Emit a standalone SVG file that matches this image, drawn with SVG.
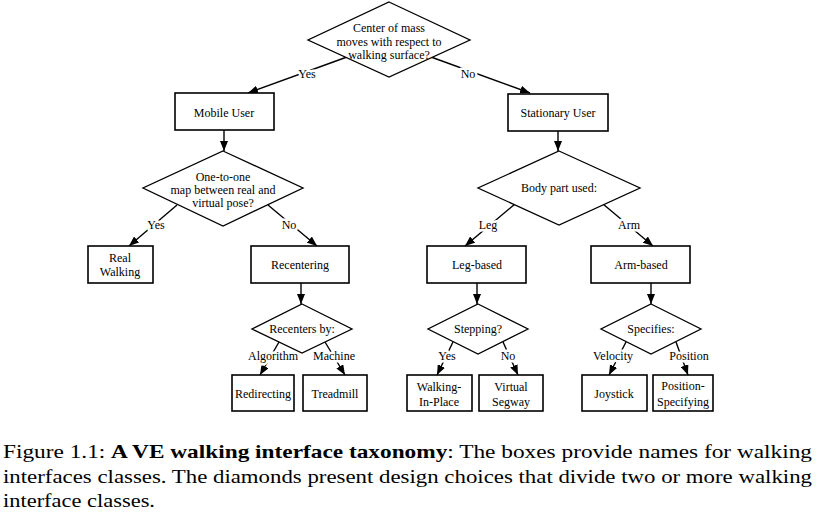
<svg xmlns="http://www.w3.org/2000/svg" width="818" height="516" viewBox="0 0 818 516">
<style>
.box{fill:#fff;stroke:#000;stroke-width:1.6}
.dia{fill:#fff;stroke:#000;stroke-width:1.3}
.t{font-family:"Liberation Serif","Times New Roman",serif;font-size:12px;fill:#000;text-anchor:middle;dominant-baseline:central}
.lbl{font-family:"Liberation Serif","Times New Roman",serif;font-size:12px;fill:#000;text-anchor:middle;dominant-baseline:central;stroke:#fff;stroke-width:5;paint-order:stroke;stroke-linejoin:round}
.c{stroke:#000;stroke-width:1.4;fill:none;marker-end:url(#ah)}
.cap{font-family:"Liberation Serif","Times New Roman",serif;font-size:19px;fill:#000}
</style>
<defs>
<marker id="ah" markerUnits="userSpaceOnUse" markerWidth="10" markerHeight="8" refX="10" refY="4" orient="auto">
<path d="M0,0 L10,4 L0,8 z" fill="#000"/>
</marker>
</defs>
<rect width="818" height="516" fill="#fff"/>

<g id="connectors">
<line class="c" x1="347" y1="57" x2="248" y2="93"/>
<line class="c" x1="431" y1="57" x2="530" y2="93"/>
<line class="c" x1="224" y1="130" x2="224" y2="151"/>
<line class="c" x1="558" y1="131" x2="558" y2="151"/>
<line class="c" x1="177" y1="205" x2="129" y2="246"/>
<line class="c" x1="268" y1="205" x2="317" y2="246"/>
<line class="c" x1="515" y1="204" x2="465" y2="246"/>
<line class="c" x1="603" y1="204" x2="653" y2="246"/>
<line class="c" x1="301" y1="283" x2="301" y2="304"/>
<line class="c" x1="477" y1="283" x2="477" y2="304"/>
<line class="c" x1="651" y1="283" x2="651" y2="304"/>
<line class="c" x1="279" y1="342" x2="260" y2="375"/>
<line class="c" x1="325" y1="342" x2="345" y2="375"/>
<line class="c" x1="453" y1="342" x2="437" y2="375"/>
<line class="c" x1="503" y1="342" x2="518" y2="375"/>
<line class="c" x1="626" y1="342" x2="609" y2="375"/>
<line class="c" x1="676" y1="342" x2="688" y2="375"/>
<text class="lbl" x="307" y="74">Yes</text>
<text class="lbl" x="468" y="74">No</text>
<text class="lbl" x="156" y="225">Yes</text>
<text class="lbl" x="289" y="225">No</text>
<text class="lbl" x="488" y="225">Leg</text>
<text class="lbl" x="629" y="225">Arm</text>
<text class="lbl" x="273" y="356">Algorithm</text>
<text class="lbl" x="334" y="356">Machine</text>
<text class="lbl" x="447" y="356">Yes</text>
<text class="lbl" x="508" y="356">No</text>
<text class="lbl" x="613" y="356">Velocity</text>
<text class="lbl" x="689" y="356">Position</text>
</g>

<g id="d-mass">
<polygon class="dia" points="389,2 470,40 389,77 308,40"/>
<text class="t" x="389" y="28">Center of mass</text>
<text class="t" x="389" y="42">moves with respect to</text>
<text class="t" x="389" y="55">walking surface?</text>
</g>

<g id="mobile-user">
<rect class="box" x="175" y="93" width="99" height="37"/>
<text class="t" x="224" y="113">Mobile User</text>
</g>

<g id="stationary-user">
<rect class="box" x="508" y="94" width="100" height="37"/>
<text class="t" x="558" y="113">Stationary User</text>
</g>

<g id="d-onetoone">
<polygon class="dia" points="223,151 303,188 223,226 143,188"/>
<text class="t" x="223" y="177">One-to-one</text>
<text class="t" x="223" y="190">map between real and</text>
<text class="t" x="223" y="203">virtual pose?</text>
</g>

<g id="d-bodypart">
<polygon class="dia" points="559,151 640,188 559,225 478,188"/>
<text class="t" x="559" y="188">Body part used:</text>
</g>

<g id="real-walking">
<rect class="box" x="88" y="246" width="65" height="37"/>
<text class="t" x="120" y="258">Real</text>
<text class="t" x="120" y="272">Walking</text>
</g>

<g id="recentering">
<rect class="box" x="251" y="246" width="98" height="37"/>
<text class="t" x="300" y="265">Recentering</text>
</g>

<g id="leg-based">
<rect class="box" x="427" y="246" width="99" height="37"/>
<text class="t" x="477" y="265">Leg-based</text>
</g>

<g id="arm-based">
<rect class="box" x="591" y="246" width="99" height="37"/>
<text class="t" x="641" y="265">Arm-based</text>
</g>

<g id="d-recenters">
<polygon class="dia" points="302,304 352,329 302,353 252,329"/>
<text class="t" x="302" y="329">Recenters by:</text>
</g>

<g id="d-stepping">
<polygon class="dia" points="478,304 528,329 478,354 428,329"/>
<text class="t" x="478" y="329">Stepping?</text>
</g>

<g id="d-specifies">
<polygon class="dia" points="651,304 701,329 651,354 601,329"/>
<text class="t" x="651" y="329">Specifies:</text>
</g>

<g id="redirecting">
<rect class="box" x="232" y="375" width="62" height="36"/>
<text class="t" x="263" y="394">Redirecting</text>
</g>

<g id="treadmill">
<rect class="box" x="303" y="375" width="64" height="36"/>
<text class="t" x="335" y="394">Treadmill</text>
</g>

<g id="walking-in-place">
<rect class="box" x="407" y="375" width="65" height="36"/>
<text class="t" x="439" y="387">Walking-</text>
<text class="t" x="439" y="402">In-Place</text>
</g>

<g id="virtual-segway">
<rect class="box" x="479" y="375" width="64" height="36"/>
<text class="t" x="511" y="387">Virtual</text>
<text class="t" x="511" y="402">Segway</text>
</g>

<g id="joystick">
<rect class="box" x="582" y="375" width="65" height="36"/>
<text class="t" x="614" y="394">Joystick</text>
</g>

<g id="position-specifying">
<rect class="box" x="653" y="375" width="60" height="36"/>
<text class="t" x="683" y="386">Position-</text>
<text class="t" x="683" y="402">Specifying</text>
</g>

<g id="caption">
<text class="cap" x="3" y="458" textLength="809" lengthAdjust="spacingAndGlyphs">Figure 1.1: <tspan font-weight="bold">A VE walking interface taxonomy</tspan>: The boxes provide names for walking</text>
<text class="cap" x="3" y="483" textLength="809" lengthAdjust="spacingAndGlyphs">interfaces classes.  The diamonds present design choices that divide two or more walking</text>
<text class="cap" x="3" y="507" textLength="152" lengthAdjust="spacingAndGlyphs">interface classes.</text>
</g>
</svg>
